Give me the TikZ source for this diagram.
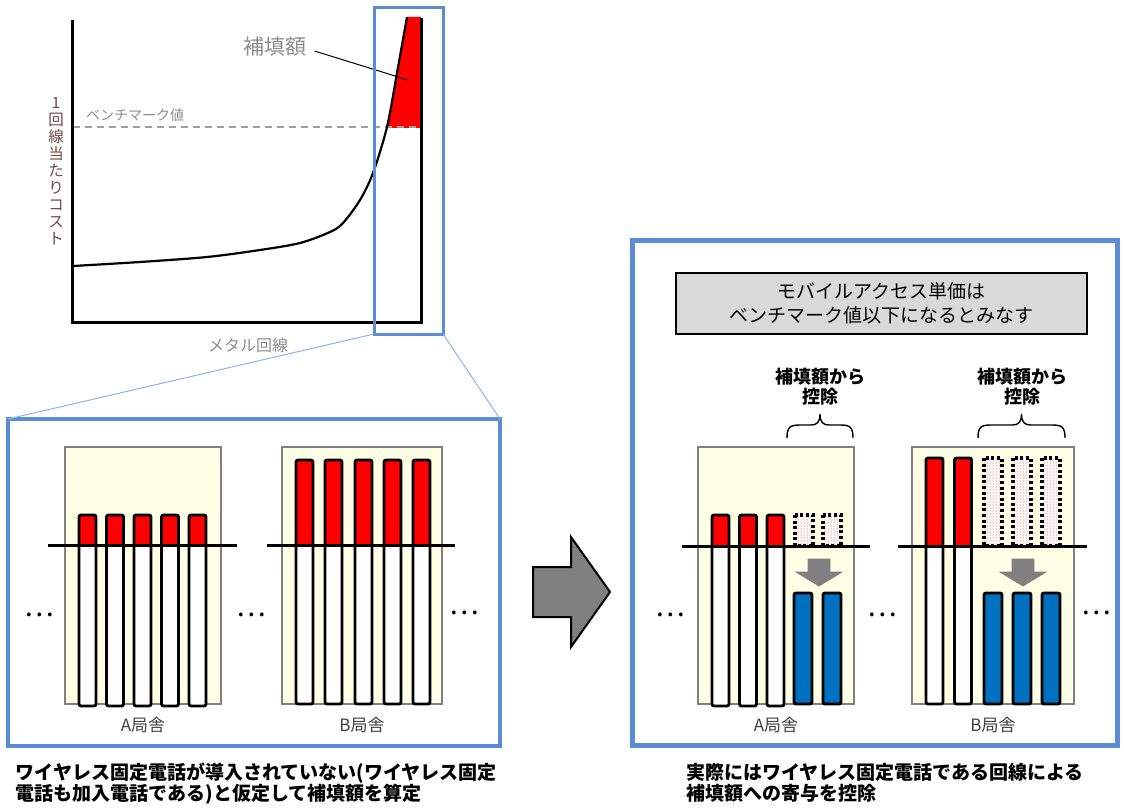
\documentclass[tikz,border=0pt]{standalone}
\usepackage{fontspec}
\newfontfamily\jp{Noto Sans CJK JP}
\usetikzlibrary{patterns}
\definecolor{pblue}{HTML}{5B8DD6}
\definecolor{lblue}{HTML}{8DB4E2}
\definecolor{bldg}{HTML}{FFFFE6}
\definecolor{txtgray}{HTML}{8C8C8C}
\definecolor{barblue}{HTML}{0070C0}
\definecolor{arrgray}{HTML}{808080}
\definecolor{ylab}{HTML}{6E4B45}
\definecolor{boxgray}{HTML}{D9D9D9}
\definecolor{lbl}{HTML}{404040}
\newcommand{\stbar}[3]{%
  \path[fill=white,rounded corners=2] (#1,#2) rectangle ({#1+17},#3);
  \fill[red,rounded corners=2] (#1,#2) rectangle ({#1+17},546);
  \draw[barln,rounded corners=2] (#1,#2) rectangle ({#1+17},#3);}
\newcommand{\dtbar}[2]{%
  \path[preaction={fill=white},pattern=dots,pattern color=red] (#1,#2) rectangle ({#1+18},546);
  \draw[dotbar] (#1,#2) rectangle ({#1+18},546);}
\newcommand{\blbar}[1]{%
  \draw[barln,fill=barblue,rounded corners=2] (#1,593) rectangle ({#1+18},704);}
\newcommand{\downarr}[1]{%
  \draw[draw=gray,fill=arrgray,line width=0.8] ({#1-11},559) -- ({#1+11},559) -- ({#1+11},572) -- ({#1+23},572) -- (#1,586) -- ({#1-23},572) -- ({#1-11},572) -- cycle;}
\newcommand{\mybrace}[3]{%
  \draw[line width=1.4] (#1,438) .. controls (#1,427) and ({#1+3},425) .. ({#1+13},425) -- ({#2-9},425) .. controls ({#2-3},425) and (#2,422) .. (#2,414) .. controls (#2,422) and ({#2+3},425) .. ({#2+9},425) -- ({#3-13},425) .. controls ({#3-3},425) and (#3,427) .. (#3,438);}
\begin{document}
\begin{tikzpicture}[x=1pt,y=-1pt,
  every node/.style={inner sep=0pt,outer sep=0pt},
  barln/.style={line width=2.8,draw=black},
  dotbar/.style={line width=3.2,draw=black,dash pattern=on 3pt off 2.6pt},
  bld/.style={draw=gray,fill=bldg,line width=1.5},
  hline/.style={line width=3,draw=black},
  panel/.style={draw=pblue},
  graytxt/.style={text=txtgray},
  dots/.style={font={\jp\fontsize{28}{28}\selectfont}},
  bname/.style={text=lbl,font={\jp\fontsize{17}{17}\selectfont}},
  capt/.style={align=left,anchor=north west,font={\jp\bfseries\fontsize{19}{21}\selectfont}},
  deduct/.style={align=center,font={\jp\bfseries\fontsize{18}{20}\selectfont}}]
\useasboundingbox (0,0) rectangle (1124,808);

% ---------- chart ----------
\begin{scope}
  \clip (0,17) rectangle (421,127);
  \fill[red] plot[smooth] coordinates {(73,266) (140,262) (207,257) (260,250) (300,243) (330,232) (343,223) (360,200) (373,173) (387,127) (397,73) (407,17)} -- (421,17) -- (421,322) -- (73,322) -- cycle;
\end{scope}
\draw[line width=2,draw=gray!75,dash pattern=on 7pt off 5pt] (73,127) -- (421,127);
\draw[line width=2.2] plot[smooth] coordinates {(73,266) (140,262) (207,257) (260,250) (300,243) (330,232) (343,223) (360,200) (373,173) (387,127) (397,73) (407,17)};
\draw[line width=3] (72,20) -- (72,322) -- (421,322) -- (421,18);

\node[align=center,text=ylab,font={\jp\fontsize{15.5}{17}\selectfont}] (ylabel) at (56,171) {1\\回\\線\\当\\た\\り\\コ\\ス\\ト};
\node[graytxt,anchor=west,font={\jp\fontsize{14}{14}\selectfont}] (bench) at (86,115) {ベンチマーク値};
\node[graytxt,font={\jp\fontsize{21}{21}\selectfont}] (hotenlbl) at (275,47) {補填額};
\coordinate (hotenpt) at (408,80);
\draw[line width=1] (hotenlbl.east) ++(8,4) -- (hotenpt);
\node[graytxt,font={\jp\fontsize{16}{16}\selectfont}] (xlabel) at (248,345) {メタル回線};

\node[panel,line width=3,minimum width=69,minimum height=326] (zoomr) at (408.5,171) {};

% ---------- left panel ----------
\node[panel,line width=3.5,minimum width=492,minimum height=327] (panelL) at (254,582.5) {};
\draw[lblue,line width=1] (zoomr.south west) -- (panelL.north west);
\draw[lblue,line width=1] (zoomr.south east) -- (panelL.north east);

\node[bld,minimum width=156,minimum height=257] (bA) at (143,575.5) {};
\node[bld,minimum width=160,minimum height=257] (bB) at (362,575.5) {};
\foreach \x in {79,106.5,134,161.5,189} {\stbar{\x}{515}{706}}
\foreach \x in {296,325,355,384,413} {\stbar{\x}{460}{704}}
\draw[hline] (48,545) -- (237,545);
\draw[hline] (267,545) -- (455,545);
\node[dots] (dl1) at (39,615) {…};
\node[dots] (dl2) at (251,615) {…};
\node[dots] (dl3) at (464,613) {…};
\node[bname] (la) at (143,725) {A局舎};
\node[bname] (lb) at (362,725) {B局舎};

% ---------- big arrow ----------
\draw[line width=2,fill=arrgray] (533,567) -- (571,567) -- (571,537) -- (610,592) -- (571,647) -- (571,617) -- (533,617) -- cycle;

% ---------- right panel ----------
\node[panel,line width=5,minimum width=485,minimum height=505] (panelR) at (874.5,492.5) {};
\node[draw=black,line width=2,fill=boxgray,minimum width=411,minimum height=61,align=center,font={\jp\fontsize{19}{24}\selectfont}] (mobile) at (881.5,303.5) {モバイルアクセス単価は\\ベンチマーク値以下になるとみなす};

\node[deduct] (dedA) at (820,387) {補填額から\\控除};
\node[deduct] (dedB) at (1022,387) {補填額から\\控除};
\mybrace{787}{820}{853}
\mybrace{978}{1021.5}{1065}

\node[bld,minimum width=156,minimum height=257] (rA) at (776,575.5) {};
\node[bld,minimum width=162,minimum height=257] (rB) at (993,575.5) {};
\foreach \x in {712,739.5,767} {\stbar{\x}{515}{706}}
\foreach \x in {926,954.5} {\stbar{\x}{458}{704}}
\foreach \x in {795,823} {\dtbar{\x}{515}}
\foreach \x in {984,1013,1042} {\dtbar{\x}{458}}
\draw[hline] (682,546) -- (870,546);
\draw[hline] (898,546) -- (1087,546);
\downarr{819}
\downarr{1023}
\foreach \x in {794,823} {\blbar{\x}}
\foreach \x in {984,1013,1042} {\blbar{\x}}
\node[dots] (dr1) at (670,615) {…};
\node[dots] (dr2) at (882,615) {…};
\node[dots] (dr3) at (1096,613) {…};
\node[bname] (ra) at (776,725) {A局舎};
\node[bname] (rb) at (993,725) {B局舎};

% ---------- captions ----------
\node[capt] (capL) at (16,763) {ワイヤレス固定電話が導入されていない(ワイヤレス固定\\電話も加入電話である)と仮定して補填額を算定};
\node[capt] (capR) at (686,763) {実際にはワイヤレス固定電話である回線による\\補填額への寄与を控除};
\end{tikzpicture}
\end{document}
